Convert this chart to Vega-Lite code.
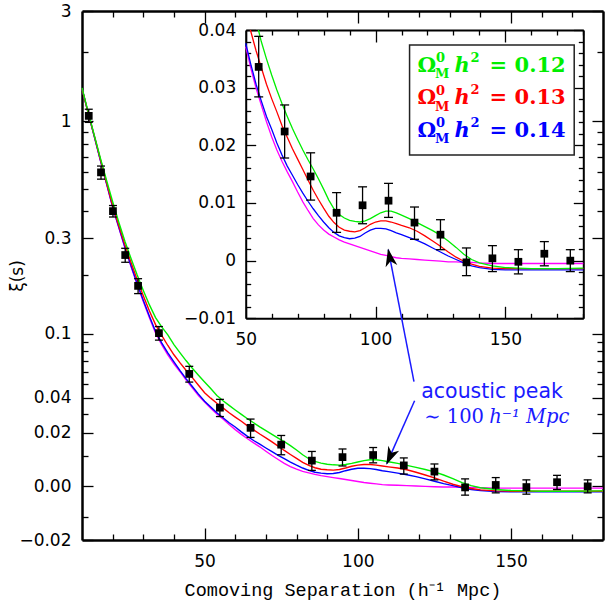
{
  "$schema": "https://vega.github.io/schema/vega-lite/v6.json",
  "width": 521,
  "height": 529,
  "autosize": "none",
  "padding": {"left": 82, "top": 11, "right": 5, "bottom": 67},
  "background": "white",
  "config": {
    "view": {"stroke": null},
    "axis": {
      "grid": false,
      "labelOverlap": false,
      "labelFlush": false,
      "domainColor": "black",
      "domainWidth": 2.2,
      "tickColor": "black",
      "tickWidth": 1.3,
      "labelColor": "black",
      "labelFont": "DejaVu Sans",
      "labelFontSize": 17,
      "titleColor": "black",
      "titleFontWeight": "normal"
    }
  },
  "datasets": {
    "curves": [
      {"s":10,"xi":1.39,"model":"0"},{"s":12,"xi":1.09,"model":"0"},{"s":14,"xi":0.86,"model":"0"},{"s":16,"xi":0.675,"model":"0"},{"s":18,"xi":0.53,"model":"0"},{"s":20,"xi":0.415,"model":"0"},{"s":22,"xi":0.335,"model":"0"},{"s":24,"xi":0.27,"model":"0"},{"s":26,"xi":0.22,"model":"0"},{"s":28,"xi":0.18,"model":"0"},{"s":30,"xi":0.148,"model":"0"},{"s":32,"xi":0.122,"model":"0"},{"s":34,"xi":0.101,"model":"0"},{"s":36,"xi":0.087,"model":"0"},{"s":38,"xi":0.076,"model":"0"},{"s":40,"xi":0.067,"model":"0"},{"s":42,"xi":0.060,"model":"0"},{"s":44,"xi":0.053,"model":"0"},{"s":46,"xi":0.047,"model":"0"},{"s":48,"xi":0.0415,"model":"0"},{"s":50,"xi":0.0371,"model":"0"},
      {"s":52,"xi":0.0333,"model":"0"},{"s":54,"xi":0.0299,"model":"0"},{"s":56,"xi":0.0270,"model":"0"},{"s":58,"xi":0.0241,"model":"0"},{"s":60,"xi":0.0215,"model":"0"},{"s":62,"xi":0.0192,"model":"0"},{"s":64,"xi":0.0172,"model":"0"},{"s":66,"xi":0.0154,"model":"0"},{"s":68,"xi":0.0137,"model":"0"},{"s":70,"xi":0.0119,"model":"0"},{"s":72,"xi":0.0102,"model":"0"},{"s":74,"xi":0.0087,"model":"0"},{"s":76,"xi":0.0073,"model":"0"},{"s":78,"xi":0.0062,"model":"0"},{"s":80,"xi":0.0053,"model":"0"},{"s":82,"xi":0.0046,"model":"0"},{"s":84,"xi":0.0041,"model":"0"},{"s":86,"xi":0.0036,"model":"0"},{"s":88,"xi":0.0032,"model":"0"},{"s":90,"xi":0.0029,"model":"0"},{"s":92,"xi":0.0026,"model":"0"},{"s":94,"xi":0.0023,"model":"0"},{"s":96,"xi":0.0020,"model":"0"},{"s":98,"xi":0.0017,"model":"0"},{"s":100,"xi":0.0014,"model":"0"},{"s":102,"xi":0.0011,"model":"0"},{"s":104,"xi":0.0009,"model":"0"},{"s":106,"xi":0.0007,"model":"0"},{"s":108,"xi":0.0005,"model":"0"},{"s":110,"xi":0.0004,"model":"0"},
      {"s":113,"xi":0.0003,"model":"0"},{"s":116,"xi":0.0002,"model":"0"},{"s":119,"xi":0.0001,"model":"0"},{"s":122,"xi":0.0,"model":"0"},{"s":125,"xi":-0.0001,"model":"0"},{"s":128,"xi":-0.0002,"model":"0"},{"s":131,"xi":-0.0002,"model":"0"},{"s":134,"xi":-0.0003,"model":"0"},{"s":137,"xi":-0.0003,"model":"0"},{"s":140,"xi":-0.0004,"model":"0"},{"s":145,"xi":-0.0005,"model":"0"},{"s":150,"xi":-0.0005,"model":"0"},{"s":155,"xi":-0.0005,"model":"0"},{"s":160,"xi":-0.0005,"model":"0"},{"s":170,"xi":-0.0005,"model":"0"},{"s":180,"xi":-0.0005,"model":"0"},

      {"s":10,"xi":1.39,"model":"0.14"},{"s":12,"xi":1.09,"model":"0.14"},{"s":14,"xi":0.86,"model":"0.14"},{"s":16,"xi":0.675,"model":"0.14"},{"s":18,"xi":0.532,"model":"0.14"},{"s":20,"xi":0.417,"model":"0.14"},{"s":22,"xi":0.337,"model":"0.14"},{"s":24,"xi":0.272,"model":"0.14"},{"s":26,"xi":0.222,"model":"0.14"},{"s":28,"xi":0.182,"model":"0.14"},{"s":30,"xi":0.150,"model":"0.14"},{"s":32,"xi":0.124,"model":"0.14"},{"s":34,"xi":0.103,"model":"0.14"},{"s":36,"xi":0.089,"model":"0.14"},{"s":38,"xi":0.078,"model":"0.14"},{"s":40,"xi":0.069,"model":"0.14"},{"s":42,"xi":0.061,"model":"0.14"},{"s":44,"xi":0.054,"model":"0.14"},{"s":46,"xi":0.048,"model":"0.14"},{"s":48,"xi":0.0425,"model":"0.14"},{"s":50,"xi":0.0377,"model":"0.14"},
      {"s":52,"xi":0.0340,"model":"0.14"},{"s":54,"xi":0.0306,"model":"0.14"},{"s":56,"xi":0.0277,"model":"0.14"},{"s":58,"xi":0.0250,"model":"0.14"},{"s":60,"xi":0.0228,"model":"0.14"},{"s":62,"xi":0.0204,"model":"0.14"},{"s":64,"xi":0.0183,"model":"0.14"},{"s":66,"xi":0.0164,"model":"0.14"},{"s":68,"xi":0.0148,"model":"0.14"},{"s":70,"xi":0.0132,"model":"0.14"},{"s":72,"xi":0.0117,"model":"0.14"},{"s":74,"xi":0.0103,"model":"0.14"},{"s":76,"xi":0.0090,"model":"0.14"},{"s":78,"xi":0.0078,"model":"0.14"},{"s":80,"xi":0.0067,"model":"0.14"},{"s":82,"xi":0.0057,"model":"0.14"},{"s":84,"xi":0.0049,"model":"0.14"},{"s":86,"xi":0.0043,"model":"0.14"},{"s":88,"xi":0.0040,"model":"0.14"},{"s":90,"xi":0.0038,"model":"0.14"},{"s":92,"xi":0.0039,"model":"0.14"},{"s":94,"xi":0.0042,"model":"0.14"},{"s":96,"xi":0.0048,"model":"0.14"},{"s":98,"xi":0.0053,"model":"0.14"},{"s":100,"xi":0.0056,"model":"0.14"},{"s":102,"xi":0.0056,"model":"0.14"},{"s":104,"xi":0.0055,"model":"0.14"},{"s":106,"xi":0.0052,"model":"0.14"},{"s":108,"xi":0.0048,"model":"0.14"},{"s":110,"xi":0.0045,"model":"0.14"},
      {"s":113,"xi":0.0040,"model":"0.14"},{"s":116,"xi":0.0035,"model":"0.14"},{"s":119,"xi":0.0029,"model":"0.14"},{"s":122,"xi":0.0022,"model":"0.14"},{"s":125,"xi":0.0015,"model":"0.14"},{"s":128,"xi":0.0008,"model":"0.14"},{"s":131,"xi":0.0002,"model":"0.14"},{"s":134,"xi":-0.0004,"model":"0.14"},{"s":137,"xi":-0.0009,"model":"0.14"},{"s":140,"xi":-0.0012,"model":"0.14"},{"s":145,"xi":-0.0015,"model":"0.14"},{"s":150,"xi":-0.0016,"model":"0.14"},{"s":155,"xi":-0.0016,"model":"0.14"},{"s":160,"xi":-0.0016,"model":"0.14"},{"s":170,"xi":-0.0016,"model":"0.14"},{"s":180,"xi":-0.0016,"model":"0.14"},

      {"s":10,"xi":1.39,"model":"0.13"},{"s":12,"xi":1.09,"model":"0.13"},{"s":14,"xi":0.865,"model":"0.13"},{"s":16,"xi":0.68,"model":"0.13"},{"s":18,"xi":0.537,"model":"0.13"},{"s":20,"xi":0.423,"model":"0.13"},{"s":22,"xi":0.343,"model":"0.13"},{"s":24,"xi":0.279,"model":"0.13"},{"s":26,"xi":0.230,"model":"0.13"},{"s":28,"xi":0.190,"model":"0.13"},{"s":30,"xi":0.158,"model":"0.13"},{"s":32,"xi":0.132,"model":"0.13"},{"s":34,"xi":0.112,"model":"0.13"},{"s":36,"xi":0.098,"model":"0.13"},{"s":38,"xi":0.086,"model":"0.13"},{"s":40,"xi":0.076,"model":"0.13"},{"s":42,"xi":0.068,"model":"0.13"},{"s":44,"xi":0.061,"model":"0.13"},{"s":46,"xi":0.055,"model":"0.13"},{"s":48,"xi":0.049,"model":"0.13"},{"s":50,"xi":0.0435,"model":"0.13"},{"s":51.8,"xi":0.0400,"model":"0.13"},
      {"s":52,"xi":0.0397,"model":"0.13"},{"s":54,"xi":0.0364,"model":"0.13"},{"s":56,"xi":0.0335,"model":"0.13"},{"s":58,"xi":0.0306,"model":"0.13"},{"s":60,"xi":0.0281,"model":"0.13"},{"s":62,"xi":0.0258,"model":"0.13"},{"s":64,"xi":0.0234,"model":"0.13"},{"s":66,"xi":0.0214,"model":"0.13"},{"s":68,"xi":0.0194,"model":"0.13"},{"s":70,"xi":0.0176,"model":"0.13"},{"s":72,"xi":0.0158,"model":"0.13"},{"s":74,"xi":0.0140,"model":"0.13"},{"s":76,"xi":0.0122,"model":"0.13"},{"s":78,"xi":0.0106,"model":"0.13"},{"s":80,"xi":0.0091,"model":"0.13"},{"s":82,"xi":0.0077,"model":"0.13"},{"s":84,"xi":0.0066,"model":"0.13"},{"s":86,"xi":0.0058,"model":"0.13"},{"s":88,"xi":0.0053,"model":"0.13"},{"s":90,"xi":0.0051,"model":"0.13"},{"s":92,"xi":0.0050,"model":"0.13"},{"s":94,"xi":0.0052,"model":"0.13"},{"s":96,"xi":0.0057,"model":"0.13"},{"s":98,"xi":0.0063,"model":"0.13"},{"s":100,"xi":0.0067,"model":"0.13"},{"s":102,"xi":0.0069,"model":"0.13"},{"s":104,"xi":0.0069,"model":"0.13"},{"s":106,"xi":0.0067,"model":"0.13"},{"s":108,"xi":0.0064,"model":"0.13"},{"s":110,"xi":0.0061,"model":"0.13"},
      {"s":113,"xi":0.0057,"model":"0.13"},{"s":116,"xi":0.0051,"model":"0.13"},{"s":119,"xi":0.0043,"model":"0.13"},{"s":122,"xi":0.0034,"model":"0.13"},{"s":125,"xi":0.0025,"model":"0.13"},{"s":128,"xi":0.0015,"model":"0.13"},{"s":131,"xi":0.0006,"model":"0.13"},{"s":134,"xi":-0.0001,"model":"0.13"},{"s":137,"xi":-0.0006,"model":"0.13"},{"s":140,"xi":-0.0010,"model":"0.13"},{"s":145,"xi":-0.0013,"model":"0.13"},{"s":150,"xi":-0.0014,"model":"0.13"},{"s":155,"xi":-0.0014,"model":"0.13"},{"s":160,"xi":-0.0014,"model":"0.13"},{"s":170,"xi":-0.0014,"model":"0.13"},{"s":180,"xi":-0.0014,"model":"0.13"},

      {"s":10,"xi":1.40,"model":"0.12"},{"s":12,"xi":1.10,"model":"0.12"},{"s":14,"xi":0.87,"model":"0.12"},{"s":16,"xi":0.69,"model":"0.12"},{"s":18,"xi":0.55,"model":"0.12"},{"s":20,"xi":0.44,"model":"0.12"},{"s":22,"xi":0.355,"model":"0.12"},{"s":24,"xi":0.29,"model":"0.12"},{"s":26,"xi":0.24,"model":"0.12"},{"s":28,"xi":0.20,"model":"0.12"},{"s":30,"xi":0.168,"model":"0.12"},{"s":32,"xi":0.142,"model":"0.12"},{"s":34,"xi":0.122,"model":"0.12"},{"s":36,"xi":0.109,"model":"0.12"},{"s":38,"xi":0.0985,"model":"0.12"},{"s":40,"xi":0.087,"model":"0.12"},{"s":42,"xi":0.078,"model":"0.12"},{"s":44,"xi":0.070,"model":"0.12"},{"s":46,"xi":0.063,"model":"0.12"},{"s":48,"xi":0.057,"model":"0.12"},{"s":50,"xi":0.0515,"model":"0.12"},
      {"s":52,"xi":0.0465,"model":"0.12"},{"s":54,"xi":0.0415,"model":"0.12"},{"s":54.9,"xi":0.0400,"model":"0.12"},{"s":56,"xi":0.0380,"model":"0.12"},{"s":58,"xi":0.0350,"model":"0.12"},{"s":60,"xi":0.0322,"model":"0.12"},{"s":62,"xi":0.0296,"model":"0.12"},{"s":64,"xi":0.0272,"model":"0.12"},{"s":66,"xi":0.0250,"model":"0.12"},{"s":68,"xi":0.0229,"model":"0.12"},{"s":70,"xi":0.0210,"model":"0.12"},{"s":72,"xi":0.0192,"model":"0.12"},{"s":74,"xi":0.0175,"model":"0.12"},{"s":76,"xi":0.0159,"model":"0.12"},{"s":78,"xi":0.0142,"model":"0.12"},{"s":80,"xi":0.0124,"model":"0.12"},{"s":82,"xi":0.0105,"model":"0.12"},{"s":84,"xi":0.0090,"model":"0.12"},{"s":86,"xi":0.0080,"model":"0.12"},{"s":88,"xi":0.0074,"model":"0.12"},{"s":90,"xi":0.0070,"model":"0.12"},{"s":92,"xi":0.0068,"model":"0.12"},{"s":94,"xi":0.0067,"model":"0.12"},{"s":96,"xi":0.0069,"model":"0.12"},{"s":98,"xi":0.0073,"model":"0.12"},{"s":100,"xi":0.0078,"model":"0.12"},{"s":102,"xi":0.0083,"model":"0.12"},{"s":104,"xi":0.0086,"model":"0.12"},{"s":106,"xi":0.0086,"model":"0.12"},{"s":108,"xi":0.0083,"model":"0.12"},{"s":110,"xi":0.0079,"model":"0.12"},
      {"s":113,"xi":0.0073,"model":"0.12"},{"s":116,"xi":0.0066,"model":"0.12"},{"s":119,"xi":0.0059,"model":"0.12"},{"s":122,"xi":0.0052,"model":"0.12"},{"s":125,"xi":0.0044,"model":"0.12"},{"s":128,"xi":0.0034,"model":"0.12"},{"s":131,"xi":0.0023,"model":"0.12"},{"s":134,"xi":0.0011,"model":"0.12"},{"s":137,"xi":0.0002,"model":"0.12"},{"s":140,"xi":-0.0004,"model":"0.12"},{"s":145,"xi":-0.0009,"model":"0.12"},{"s":150,"xi":-0.0012,"model":"0.12"},{"s":155,"xi":-0.0013,"model":"0.12"},{"s":160,"xi":-0.0014,"model":"0.12"},{"s":170,"xi":-0.0014,"model":"0.12"},{"s":180,"xi":-0.0013,"model":"0.12"}
    ],
    "bins": [
      {"s":12.2,"xi":1.057,"lo":0.99,"hi":1.13},
      {"s":16.2,"xi":0.596,"lo":0.556,"hi":0.636},
      {"s":20.1,"xi":0.399,"lo":0.375,"hi":0.423},
      {"s":24.1,"xi":0.2495,"lo":0.2305,"hi":0.2685},
      {"s":28.3,"xi":0.177,"lo":0.162,"hi":0.192},
      {"s":35.1,"xi":0.1008,"lo":0.0922,"hi":0.1094},
      {"s":45,"xi":0.0581,"lo":0.0514,"hi":0.0648},
      {"s":55,"xi":0.0336,"lo":0.0284,"hi":0.0389},
      {"s":65,"xi":0.0224,"lo":0.0178,"hi":0.0270},
      {"s":75,"xi":0.0146,"lo":0.0105,"hi":0.0187},
      {"s":85,"xi":0.0083,"lo":0.0049,"hi":0.0118},
      {"s":95,"xi":0.0096,"lo":0.0064,"hi":0.0128},
      {"s":105,"xi":0.0104,"lo":0.0075,"hi":0.0134},
      {"s":115,"xi":0.0066,"lo":0.0037,"hi":0.0093},
      {"s":125,"xi":0.0045,"lo":0.0019,"hi":0.0071},
      {"s":135,"xi":-0.0003,"lo":-0.0026,"hi":0.0022},
      {"s":145,"xi":0.0004,"lo":-0.0019,"hi":0.0026},
      {"s":155,"xi":-0.0002,"lo":-0.0023,"hi":0.0019},
      {"s":165,"xi":0.0012,"lo":-0.0009,"hi":0.0033},
      {"s":175,"xi":0.0,"lo":-0.0019,"hi":0.0019}
    ],
    "legend": [
      {"model":"0.12","val":"= 0.12"},
      {"model":"0.13","val":"= 0.13"},
      {"model":"0.14","val":"= 0.14"}
    ]
  },
  "resolve": {"scale": {"x": "independent", "y": "independent"}, "axis": {"x": "independent", "y": "independent"}},
  "layer": [
    {
      "data": {"name": "curves"},
      "mark": {"type": "line", "strokeWidth": 1.4},
      "encoding": {
        "x": {"field": "s", "type": "quantitative",
          "scale": {"type": "linear", "domain": [10, 180], "nice": false, "zero": false},
          "axis": {"orient": "bottom", "values": [20,30,40,50,60,70,80,90,100,110,120,130,140,150,160,170],
            "labelExpr": "datum.value % 50 === 0 ? datum.label : ''",
            "tickSize": {"condition": {"test": "datum.value % 50 === 0", "value": -12}, "value": -6},
            "labelPadding": 25, "domainWidth": 2.5,
            "title": "Comoving Separation (h⁻¹ Mpc)", "titleFont": "Liberation Mono", "titleFontSize": 18.5,
            "titleY": 55, "titleBaseline": "alphabetic"}},
        "y": {"field": "xi", "type": "quantitative",
          "scale": {"type": "symlog", "constant": 0.029, "domain": [-0.02, 3], "nice": false, "zero": false},
          "axis": {"orient": "left",
            "values": [-0.02,-0.01,0,0.01,0.02,0.03,0.04,0.05,0.06,0.07,0.08,0.09,0.1,0.2,0.3,0.4,0.5,0.6,0.7,0.8,0.9,1,2,3],
            "format": ".2~f",
            "labelExpr": "indexof([-0.02,0,0.02,0.04,0.1,0.3,1,3], datum.value) >= 0 ? (datum.value === 0 ? '0.00' : datum.label) : ''",
            "tickSize": {"condition": {"test": "indexof([-0.02,0,0.02,0.04,0.1,0.3,1,3], datum.value) >= 0", "value": -11}, "value": -6},
            "labelPadding": 22, "domainWidth": 2.5,
            "title": "ξ(s)", "titleFont": "DejaVu Sans", "titleFontSize": 17,
            "titleX": -65, "titleBaseline": "middle"}},
        "color": {"field": "model", "type": "nominal",
          "scale": {"domain": ["0.12","0.13","0.14","0"], "range": ["#00ee00","#ff0000","#0000ff","#ff00ff"]},
          "legend": null}
      }
    },
    {
      "data": {"name": "bins"},
      "mark": {"type": "rule", "color": "black", "strokeWidth": 1.3},
      "encoding": {
        "x": {"field": "s", "type": "quantitative",
          "scale": {"type": "linear", "domain": [10, 180], "nice": false, "zero": false},
          "axis": {"orient": "top", "values": [20,30,40,50,60,70,80,90,100,110,120,130,140,150,160,170],
            "labels": false,
            "tickSize": {"condition": {"test": "datum.value % 50 === 0", "value": -12}, "value": -6},
            "domainWidth": 2.5, "title": null}},
        "y": {"field": "lo", "type": "quantitative",
          "scale": {"type": "symlog", "constant": 0.029, "domain": [-0.02, 3], "nice": false, "zero": false},
          "axis": {"orient": "right",
            "values": [-0.02,-0.01,0,0.01,0.02,0.03,0.04,0.05,0.06,0.07,0.08,0.09,0.1,0.2,0.3,0.4,0.5,0.6,0.7,0.8,0.9,1,2,3],
            "labels": false,
            "tickSize": {"condition": {"test": "indexof([-0.02,0,0.02,0.04,0.1,0.3,1,3], datum.value) >= 0", "value": -11}, "value": -6},
            "domainWidth": 2.5, "title": null}},
        "y2": {"field": "hi"}
      }
    },
    {
      "data": {"name": "bins"},
      "mark": {"type": "tick", "orient": "horizontal", "size": 8, "thickness": 1.3, "color": "black", "opacity": 1},
      "encoding": {
        "x": {"field": "s", "type": "quantitative", "scale": {"type": "linear", "domain": [10, 180], "nice": false, "zero": false}, "axis": null},
        "y": {"field": "lo", "type": "quantitative", "scale": {"type": "symlog", "constant": 0.029, "domain": [-0.02, 3], "nice": false, "zero": false}, "axis": null}
      }
    },
    {
      "data": {"name": "bins"},
      "mark": {"type": "tick", "orient": "horizontal", "size": 8, "thickness": 1.3, "color": "black", "opacity": 1},
      "encoding": {
        "x": {"field": "s", "type": "quantitative", "scale": {"type": "linear", "domain": [10, 180], "nice": false, "zero": false}, "axis": null},
        "y": {"field": "hi", "type": "quantitative", "scale": {"type": "symlog", "constant": 0.029, "domain": [-0.02, 3], "nice": false, "zero": false}, "axis": null}
      }
    },
    {
      "data": {"name": "bins"},
      "mark": {"type": "square", "size": 60, "color": "black", "filled": true, "opacity": 1},
      "encoding": {
        "x": {"field": "s", "type": "quantitative", "scale": {"type": "linear", "domain": [10, 180], "nice": false, "zero": false}, "axis": null},
        "y": {"field": "xi", "type": "quantitative", "scale": {"type": "symlog", "constant": 0.029, "domain": [-0.02, 3], "nice": false, "zero": false}, "axis": null}
      }
    },
    {
      "data": {"name": "curves"},
      "transform": [{"filter": "datum.s >= 50 && datum.xi <= 0.0401"}],
      "mark": {"type": "line", "strokeWidth": 1.3},
      "encoding": {
        "x": {"field": "s", "type": "quantitative",
          "scale": {"type": "linear", "domain": [50, 180], "range": [163.7, 501.3], "nice": false, "zero": false},
          "axis": {"orient": "bottom", "offset": -221.7,
            "values": [50,60,70,80,90,100,110,120,130,140,150,160,170,180],
            "labelExpr": "datum.value % 50 === 0 ? datum.label : ''",
            "tickSize": {"condition": {"test": "datum.value % 50 === 0", "value": -12}, "value": -5},
            "labelPadding": 25, "domainWidth": 2, "title": null}},
        "y": {"field": "xi", "type": "quantitative",
          "scale": {"type": "linear", "domain": [-0.01, 0.04], "range": [307.3, 19], "nice": false, "zero": false},
          "axis": {"orient": "left", "offset": -163.7,
            "values": [-0.01,-0.008,-0.006,-0.004,-0.002,0,0.002,0.004,0.006,0.008,0.01,0.012,0.014,0.016,0.018,0.02,0.022,0.024,0.026,0.028,0.03,0.032,0.034,0.036,0.038,0.04],
            "format": ".2f",
            "labelExpr": "indexof([-0.01,0,0.01,0.02,0.03,0.04], datum.value) >= 0 ? (datum.value === 0 ? '0' : datum.label) : ''",
            "tickSize": {"condition": {"test": "indexof([-0.01,0,0.01,0.02,0.03,0.04], datum.value) >= 0", "value": -10}, "value": -5},
            "labelPadding": 20, "domainWidth": 2, "title": null}},
        "color": {"field": "model", "type": "nominal",
          "scale": {"domain": ["0.12","0.13","0.14","0"], "range": ["#00ee00","#ff0000","#0000ff","#ff00ff"]},
          "legend": null}
      }
    },
    {
      "data": {"name": "bins"},
      "transform": [{"filter": "datum.s >= 50"}],
      "mark": {"type": "rule", "color": "black", "strokeWidth": 1.3},
      "encoding": {
        "x": {"field": "s", "type": "quantitative",
          "scale": {"type": "linear", "domain": [50, 180], "range": [163.7, 501.3], "nice": false, "zero": false},
          "axis": {"orient": "top", "offset": -19,
            "values": [50,60,70,80,90,100,110,120,130,140,150,160,170,180],
            "labels": false,
            "tickSize": {"condition": {"test": "datum.value % 50 === 0", "value": -12}, "value": -5},
            "domainWidth": 2, "title": null}},
        "y": {"field": "lo", "type": "quantitative",
          "scale": {"type": "linear", "domain": [-0.01, 0.04], "range": [307.3, 19], "nice": false, "zero": false},
          "axis": {"orient": "right", "offset": -19.7,
            "values": [-0.01,-0.008,-0.006,-0.004,-0.002,0,0.002,0.004,0.006,0.008,0.01,0.012,0.014,0.016,0.018,0.02,0.022,0.024,0.026,0.028,0.03,0.032,0.034,0.036,0.038,0.04],
            "labels": false,
            "tickSize": {"condition": {"test": "indexof([-0.01,0,0.01,0.02,0.03,0.04], datum.value) >= 0", "value": -10}, "value": -5},
            "domainWidth": 2, "title": null}},
        "y2": {"field": "hi"}
      }
    },
    {
      "data": {"name": "bins"},
      "transform": [{"filter": "datum.s >= 50"}],
      "mark": {"type": "tick", "orient": "horizontal", "size": 9, "thickness": 1.3, "color": "black", "opacity": 1},
      "encoding": {
        "x": {"field": "s", "type": "quantitative", "scale": {"type": "linear", "domain": [50, 180], "range": [163.7, 501.3], "nice": false, "zero": false}, "axis": null},
        "y": {"field": "lo", "type": "quantitative", "scale": {"type": "linear", "domain": [-0.01, 0.04], "range": [307.3, 19], "nice": false, "zero": false}, "axis": null}
      }
    },
    {
      "data": {"name": "bins"},
      "transform": [{"filter": "datum.s >= 50"}],
      "mark": {"type": "tick", "orient": "horizontal", "size": 9, "thickness": 1.3, "color": "black", "opacity": 1},
      "encoding": {
        "x": {"field": "s", "type": "quantitative", "scale": {"type": "linear", "domain": [50, 180], "range": [163.7, 501.3], "nice": false, "zero": false}, "axis": null},
        "y": {"field": "hi", "type": "quantitative", "scale": {"type": "linear", "domain": [-0.01, 0.04], "range": [307.3, 19], "nice": false, "zero": false}, "axis": null}
      }
    },
    {
      "data": {"name": "bins"},
      "transform": [{"filter": "datum.s >= 50"}],
      "mark": {"type": "square", "size": 60, "color": "black", "filled": true, "opacity": 1},
      "encoding": {
        "x": {"field": "s", "type": "quantitative", "scale": {"type": "linear", "domain": [50, 180], "range": [163.7, 501.3], "nice": false, "zero": false}, "axis": null},
        "y": {"field": "xi", "type": "quantitative", "scale": {"type": "linear", "domain": [-0.01, 0.04], "range": [307.3, 19], "nice": false, "zero": false}, "axis": null}
      }
    },
    {
      "data": {"values": [{}]},
      "mark": {"type": "rect", "fill": "white", "stroke": "#222222", "strokeWidth": 1.5},
      "encoding": {
        "x": {"datum": 113.1, "type": "quantitative", "scale": {"type": "linear", "domain": [50, 180], "range": [163.7, 501.3], "nice": false, "zero": false}, "axis": null},
        "x2": {"datum": 176.5},
        "y": {"datum": 0.0374, "type": "quantitative", "scale": {"type": "linear", "domain": [-0.01, 0.04], "range": [307.3, 19], "nice": false, "zero": false}, "axis": null},
        "y2": {"datum": 0.01834}
      }
    },
    {
      "data": {"name": "legend"},
      "layer": [
        {"mark": {"type": "text", "text": "Ω", "align": "left", "baseline": "alphabetic", "font": "DejaVu Serif", "fontSize": 21, "fontWeight": "bold"}},
        {"mark": {"type": "text", "text": "0", "align": "left", "baseline": "alphabetic", "font": "DejaVu Serif", "fontSize": 13, "fontWeight": "bold", "dx": 18.5, "dy": -9.5}},
        {"mark": {"type": "text", "text": "M", "align": "left", "baseline": "alphabetic", "font": "DejaVu Serif", "fontSize": 13, "fontWeight": "bold", "dx": 17.5, "dy": 6.5}},
        {"mark": {"type": "text", "text": "h", "align": "left", "baseline": "alphabetic", "font": "DejaVu Serif", "fontSize": 21, "fontWeight": "bold", "fontStyle": "italic", "dx": 37}},
        {"mark": {"type": "text", "text": "2", "align": "left", "baseline": "alphabetic", "font": "DejaVu Serif", "fontSize": 13, "fontWeight": "bold", "dx": 53, "dy": -10}},
        {"mark": {"type": "text", "align": "left", "baseline": "alphabetic", "font": "DejaVu Serif", "fontSize": 21, "fontWeight": "bold", "dx": 72},
         "encoding": {"text": {"field": "val"}}}
      ],
      "encoding": {
        "x": {"datum": 116.2, "type": "quantitative", "scale": {"type": "linear", "domain": [50, 180], "range": [163.7, 501.3], "nice": false, "zero": false}, "axis": null},
        "y": {"field": "model", "type": "ordinal", "scale": {"type": "point", "domain": ["0.12","0.13","0.14"], "range": [60.7, 125.7], "padding": 0}, "axis": null},
        "color": {"field": "model", "type": "nominal",
          "scale": {"domain": ["0.12","0.13","0.14","0"], "range": ["#00ee00","#ff0000","#0000ff","#ff00ff"]},
          "legend": null}
      }
    },
    {
      "data": {"values": [{}]},
      "mark": {"type": "rule", "color": "#1a1aff", "strokeWidth": 1.5},
      "encoding": {
        "x": {"datum": 114.8, "type": "quantitative", "scale": {"type": "linear", "domain": [50, 180], "range": [163.7, 501.3], "nice": false, "zero": false}, "axis": null},
        "y": {"datum": -0.02098, "type": "quantitative", "scale": {"type": "linear", "domain": [-0.01, 0.04], "range": [307.3, 19], "nice": false, "zero": false}, "axis": null},
        "x2": {"datum": 104.9},
        "y2": {"datum": 0.0019}
      }
    },
    {
      "data": {"values": [{}]},
      "mark": {"type": "rule", "color": "#1a1aff", "strokeWidth": 1.5},
      "encoding": {
        "x": {"datum": 115.04, "type": "quantitative", "scale": {"type": "linear", "domain": [50, 180], "range": [163.7, 501.3], "nice": false, "zero": false}, "axis": null},
        "y": {"datum": -0.0243, "type": "quantitative", "scale": {"type": "linear", "domain": [-0.01, 0.04], "range": [307.3, 19], "nice": false, "zero": false}, "axis": null},
        "x2": {"datum": 104.3},
        "y2": {"datum": -0.0352}
      }
    },
    {
      "data": {"values": [{}]},
      "mark": {"type": "point", "shape": "M0,0L0.33,1L0,0.72L-0.33,1Z", "size": 1300, "filled": true, "color": "black", "opacity": 1, "angle": -11},
      "encoding": {
        "x": {"datum": 104.8, "type": "quantitative", "scale": {"type": "linear", "domain": [50, 180], "range": [163.7, 501.3], "nice": false, "zero": false}, "axis": null},
        "y": {"datum": 0.0021, "type": "quantitative", "scale": {"type": "linear", "domain": [-0.01, 0.04], "range": [307.3, 19], "nice": false, "zero": false}, "axis": null}
      }
    },
    {
      "data": {"values": [{}]},
      "mark": {"type": "point", "shape": "M0,0L0.33,1L0,0.72L-0.33,1Z", "size": 1300, "filled": true, "color": "black", "opacity": 1, "angle": -156},
      "encoding": {
        "x": {"datum": 104.17, "type": "quantitative", "scale": {"type": "linear", "domain": [50, 180], "range": [163.7, 501.3], "nice": false, "zero": false}, "axis": null},
        "y": {"datum": -0.03539, "type": "quantitative", "scale": {"type": "linear", "domain": [-0.01, 0.04], "range": [307.3, 19], "nice": false, "zero": false}, "axis": null}
      }
    },
    {
      "data": {"values": [{}]},
      "layer": [
        {"mark": {"type": "text", "text": "acoustic peak", "align": "left", "baseline": "alphabetic", "font": "DejaVu Sans", "fontSize": 20.5, "color": "#1a1aff"},
         "encoding": {"y": {"datum": -0.02378, "type": "quantitative", "scale": {"type": "linear", "domain": [-0.01, 0.04], "range": [307.3, 19], "nice": false, "zero": false}, "axis": null}}},
        {"mark": {"type": "text", "text": "∼ 100", "align": "left", "baseline": "alphabetic", "font": "DejaVu Serif", "fontSize": 19.5, "color": "#1a1aff", "dx": 3},
         "encoding": {"y": {"datum": -0.02816, "type": "quantitative", "scale": {"type": "linear", "domain": [-0.01, 0.04], "range": [307.3, 19], "nice": false, "zero": false}, "axis": null}}},
        {"mark": {"type": "text", "text": "h⁻¹ Mpc", "align": "left", "baseline": "alphabetic", "font": "DejaVu Serif", "fontSize": 19.5, "fontStyle": "italic", "color": "#1a1aff", "dx": 68},
         "encoding": {"y": {"datum": -0.02816, "type": "quantitative", "scale": {"type": "linear", "domain": [-0.01, 0.04], "range": [307.3, 19], "nice": false, "zero": false}, "axis": null}}}
      ],
      "encoding": {
        "x": {"datum": 117.6, "type": "quantitative", "scale": {"type": "linear", "domain": [50, 180], "range": [163.7, 501.3], "nice": false, "zero": false}, "axis": null}
      }
    }
  ]
}
